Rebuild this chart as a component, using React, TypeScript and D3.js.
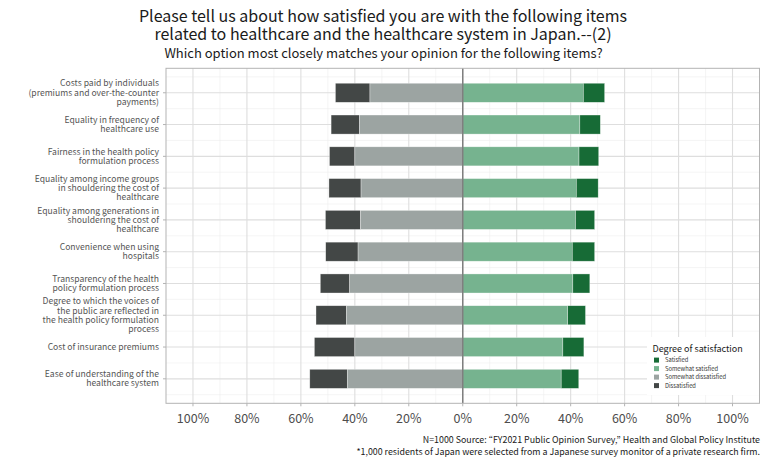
import React from "react";
import * as d3 from "d3";

const categories = [
  "Costs paid by individuals (premiums and over-the-counter payments)",
  "Equality in frequency of healthcare use",
  "Fairness in the health policy formulation process",
  "Equality among income groups in shouldering the cost of healthcare",
  "Equality among generations in shouldering the cost of healthcare",
  "Convenience when using hospitals",
  "Transparency of the health policy formulation process",
  "Degree to which the voices of the public are reflected in the health policy formulation process",
  "Cost of insurance premiums",
  "Ease of understanding of the healthcare system",
];
const categoryLines = [
  ["Costs paid by individuals", "(premiums and over-the-counter", "payments)"],
  ["Equality in frequency of", "healthcare use"],
  ["Fairness in the health policy", "formulation process"],
  ["Equality among income groups", "in shouldering the cost of", "healthcare"],
  ["Equality among generations in", "shouldering the cost of", "healthcare"],
  ["Convenience when using", "hospitals"],
  ["Transparency of the health", "policy formulation process"],
  ["Degree to which the voices of", "the public are reflected in", "the health policy formulation", "process"],
  ["Cost of insurance premiums"],
  ["Ease of understanding of the", "healthcare system"],
];

const dissatisfied = [12.8, 10.5, 9.4, 11.9, 13.0, 12.0, 10.9, 11.3, 15.0, 13.9];
const somewhatDissatisfied = [34.4, 38.3, 40.0, 37.7, 37.9, 38.8, 41.9, 43.1, 40.0, 42.8];
const somewhatSatisfied = [44.7, 43.4, 43.1, 42.1, 41.8, 40.6, 40.8, 38.9, 37.1, 36.5];
const satisfied = [7.9, 7.6, 7.3, 8.1, 7.1, 8.3, 6.3, 6.6, 7.8, 6.5];

const seriesNames = ["Satisfied", "Somewhat satisfied", "Somewhat dissatisfied", "Dissatisfied"];
const seriesColors = ["#176b36", "#76b38f", "#9ca4a2", "#434746"];

const majorTicks = [-1, -0.8, -0.6, -0.4, -0.2, 0, 0.2, 0.4, 0.6, 0.8, 1];
const minorTicks = [-0.9, -0.7, -0.5, -0.3, -0.1, 0.1, 0.3, 0.5, 0.7, 0.9];

const titleLines = [
  "Please tell us about how satisfied you are with the following items",
  "related to healthcare and the healthcare system in Japan.--(2)",
];
const subtitle = "Which option most closely matches your opinion for the following items?";
const captionLines = [
  "N=1000 Source: \u201CFY2021 Public Opinion Survey,\u201D Health and Global Policy Institute",
  "*1,000 residents of Japan were selected from a Japanese survey monitor of a private research firm.",
];
const legendTitle = "Degree of satisfaction";

const FONT = "'Noto Sans CJK JP', 'Noto Sans', sans-serif";

export default function App() {
  const W = 768, H = 475;
  const left = 166, right = 759.5, top = 68.3, bottom = 403.3;
  const x = d3.scaleLinear().domain([-1.1, 1.1]).range([left, right]);
  const y = d3.scalePoint<string>().domain(categories).range([top, bottom]).padding(0.77);
  const step = y.step();
  const bh = step * 0.6;

  const hMinor: number[] = [];
  categories.forEach((c, i) => {
    hMinor.push((y(c) as number) - step / 2);
    if (i === categories.length - 1) hMinor.push((y(c) as number) + step / 2);
  });

  const segs: { x0: number; x1: number; c: string; yy: number; key: string }[] = [];
  categories.forEach((c, i) => {
    const yy = y(c) as number;
    const sd = somewhatDissatisfied[i] / 100, d = dissatisfied[i] / 100;
    const ss = somewhatSatisfied[i] / 100, s = satisfied[i] / 100;
    segs.push({ x0: -sd - d, x1: -sd, c: seriesColors[3], yy, key: "d" + i });
    segs.push({ x0: -sd, x1: 0, c: seriesColors[2], yy, key: "sd" + i });
    segs.push({ x0: 0, x1: ss, c: seriesColors[1], yy, key: "ss" + i });
    segs.push({ x0: ss, x1: ss + s, c: seriesColors[0], yy, key: "s" + i });
  });

  const lineH = 9.3;

  return (
    <svg width={W} height={H} style={{ position: "absolute", left: 0, top: 0, display: "block", background: "#fff" }} fontFamily={FONT}>
      <rect x={0} y={0} width={W} height={H} fill="#fff" />
      {/* title */}
      <text x={383} y={22} textAnchor="middle" fontSize={16} fill="#1a1a1a">{titleLines[0]}</text>
      <text x={383} y={40} textAnchor="middle" fontSize={16} fill="#1a1a1a">{titleLines[1]}</text>
      <text x={383.5} y={58} textAnchor="middle" fontSize={13} fill="#1a1a1a">{subtitle}</text>

      {/* panel background grid */}
      <g>
        {hMinor.map((v, i) => (
          <line key={"hm" + i} x1={left} x2={right} y1={v} y2={v} stroke="#efefef" strokeWidth={0.6} />
        ))}
        {minorTicks.map((t) => (
          <line key={"vm" + t} x1={x(t)} x2={x(t)} y1={top} y2={bottom} stroke="#efefef" strokeWidth={0.6} />
        ))}
        {categories.map((c) => (
          <line key={"hM" + c} x1={left} x2={right} y1={y(c)} y2={y(c)} stroke="#dedede" strokeWidth={1.1} />
        ))}
        {majorTicks.map((t) => (
          <line key={"vM" + t} x1={x(t)} x2={x(t)} y1={top} y2={bottom} stroke="#dedede" strokeWidth={1.1} />
        ))}
      </g>

      {/* bars */}
      <g>
        {segs.map((s) => (
          <rect
            key={s.key}
            x={x(s.x0)}
            width={x(s.x1) - x(s.x0)}
            y={s.yy - bh / 2}
            height={bh}
            fill={s.c}
            stroke="#ffffff"
            strokeOpacity={0.55}
            strokeWidth={0.6}
          />
        ))}
      </g>

      {/* zero line */}
      <line x1={x(0)} x2={x(0)} y1={top} y2={bottom} stroke="#7f7f7f" strokeWidth={1.5} />

      {/* legend */}
      <g>
        <rect x={647} y={337} width={112} height={58} fill="#fff" />
        <text x={652.5} y={351.5} fontSize={9} fill="#1a1a1a">{legendTitle}</text>
        {seriesNames.map((n, i) => (
          <g key={n} transform={`translate(654,${357.6 + i * 8.5})`}>
            <rect x={0} y={0} width={5} height={5} fill={seriesColors[i]} />
            <text x={11} y={4.6} fontSize={5.8} fill="#333">{n}</text>
          </g>
        ))}
      </g>

      {/* panel border */}
      <rect x={left} y={top} width={right - left} height={bottom - top} fill="none" stroke="#b3b3b3" strokeWidth={1} />

      {/* x axis */}
      <g>
        {majorTicks.map((t) => (
          <g key={"xt" + t}>
            <line x1={x(t)} x2={x(t)} y1={bottom} y2={bottom + 3} stroke="#b3b3b3" strokeWidth={1} />
            <text x={x(t)} y={bottom + 19.5} textAnchor="middle" fontSize={12.5} fill="#4d4d4d">
              {d3.format(".0%")(Math.abs(t))}
            </text>
          </g>
        ))}
      </g>

      {/* y axis */}
      <g>
        {categories.map((c, i) => {
          const yy = y(c) as number;
          const lines = categoryLines[i];
          const y0 = yy - ((lines.length - 1) * lineH) / 2;
          return (
            <g key={"yl" + i}>
              <line x1={left - 3} x2={left} y1={yy} y2={yy} stroke="#b3b3b3" strokeWidth={1} />
              <text textAnchor="end" fontSize={8.6} fill="#555555">
                {lines.map((l, j) => (
                  <tspan key={j} x={left - 7} y={y0 + j * lineH + 3}>{l}</tspan>
                ))}
              </text>
            </g>
          );
        })}
      </g>

      {/* caption */}
      <text x={760} y={443} textAnchor="end" fontSize={8.85} fill="#1a1a1a">{captionLines[0]}</text>
      <text x={760} y={455} textAnchor="end" fontSize={8.85} fill="#1a1a1a">{captionLines[1]}</text>
    </svg>
  );
}
